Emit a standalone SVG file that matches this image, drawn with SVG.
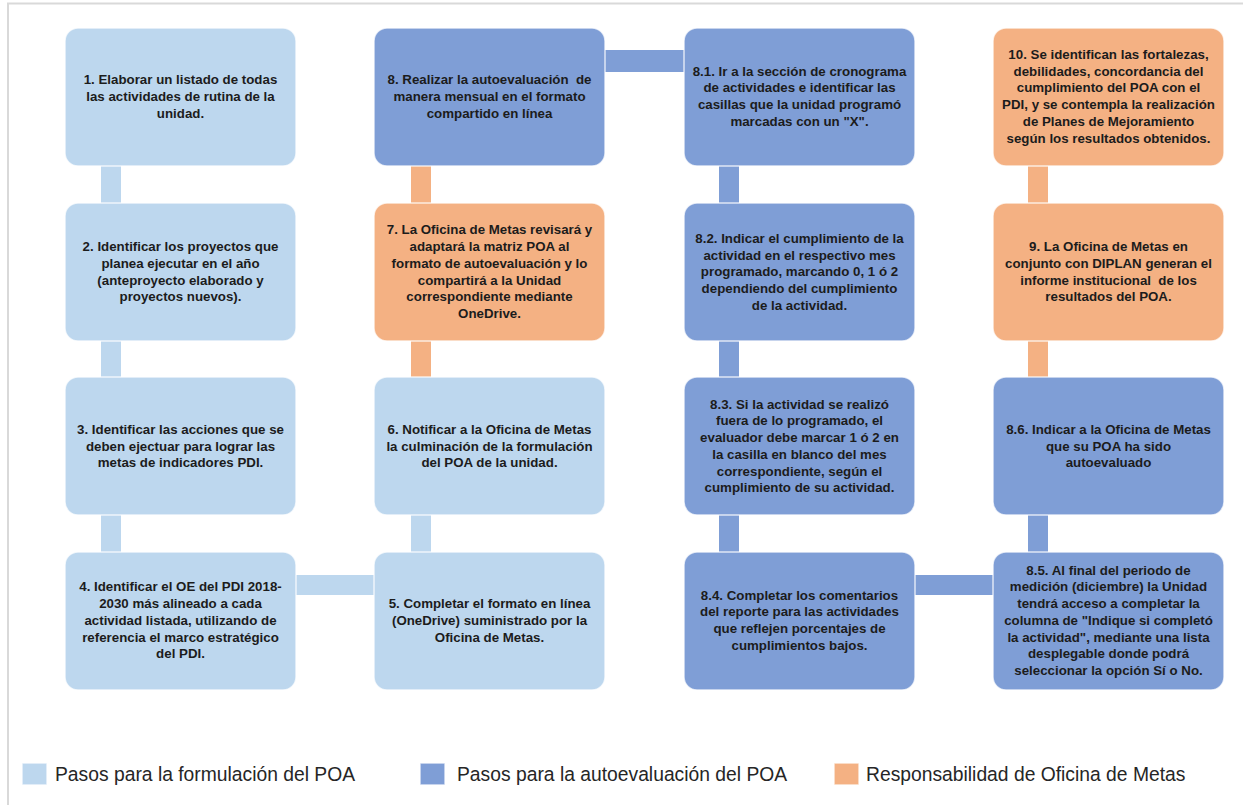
<svg xmlns="http://www.w3.org/2000/svg" width="1243" height="805" viewBox="0 0 1243 805">
<style>
.lb{fill:#BDD7EE}
.mb{fill:#7F9ED6}
.or{fill:#F4B183}
.box{stroke:#ffffff;stroke-opacity:0.75;stroke-width:1.5}
.t{font-family:"Liberation Sans",Arial,sans-serif;font-weight:bold;font-size:13.3px;fill:#1c1c1c;text-anchor:middle;white-space:pre}
.lg{font-family:"Liberation Sans",Arial,sans-serif;font-size:19.3px;fill:#262626}
</style>
<rect x="0" y="0" width="1243" height="805" fill="#ffffff"/>
<rect x="8" y="3.5" width="1260" height="830" fill="none" stroke="#D9D9D9" stroke-width="2"/>
<g id="connectors">
<rect class="lb" x="101" y="165" width="20" height="39"/>
<rect class="lb" x="101" y="340" width="20" height="38"/>
<rect class="lb" x="101" y="514" width="20" height="39"/>
<rect class="lb" x="295" y="575" width="80" height="20"/>
<rect class="or" x="411" y="165" width="20" height="39"/>
<rect class="or" x="411" y="340" width="20" height="38"/>
<rect class="lb" x="411" y="514" width="20" height="39"/>
<rect class="mb" x="604" y="50" width="82" height="22"/>
<rect class="mb" x="719" y="165" width="20" height="39"/>
<rect class="mb" x="719" y="340" width="20" height="38"/>
<rect class="mb" x="719" y="514" width="20" height="39"/>
<rect class="mb" x="914" y="575" width="80" height="20"/>
<rect class="or" x="1028" y="165" width="20" height="39"/>
<rect class="or" x="1028" y="340" width="20" height="38"/>
<rect class="mb" x="1028" y="514" width="20" height="39"/>
</g>
<g id="n1"><rect class="box lb" x="65" y="28" width="231" height="138" rx="13"/>
<text class="t" x="180.5" y="84"><tspan x="180.5">1. Elaborar un listado de todas</tspan><tspan x="180.5" dy="16.75">las actividades de rutina de la</tspan><tspan x="180.5" dy="16.75">unidad.</tspan></text></g>
<g id="n2"><rect class="box lb" x="65" y="203" width="231" height="138" rx="13"/>
<text class="t" x="180.5" y="251.2"><tspan x="180.5">2. Identificar los proyectos que</tspan><tspan x="180.5" dy="16.75">planea ejecutar en el año</tspan><tspan x="180.5" dy="16.75">(anteproyecto elaborado y</tspan><tspan x="180.5" dy="16.75">proyectos nuevos).</tspan></text></g>
<g id="n3"><rect class="box lb" x="65" y="377" width="231" height="138" rx="13"/>
<text class="t" x="180.5" y="433.8"><tspan x="180.5">3. Identificar las acciones que se</tspan><tspan x="180.5" dy="16.75">deben ejectuar para lograr las</tspan><tspan x="180.5" dy="16.75">metas de indicadores PDI.</tspan></text></g>
<g id="n4"><rect class="box lb" x="65" y="552" width="231" height="138" rx="13"/>
<text class="t" x="180.5" y="591.3"><tspan x="180.5">4. Identificar el OE del PDI 2018-</tspan><tspan x="180.5" dy="16.75">2030 más alineado a cada</tspan><tspan x="180.5" dy="16.75">actividad listada, utilizando de</tspan><tspan x="180.5" dy="16.75">referencia el marco estratégico</tspan><tspan x="180.5" dy="16.75">del PDI.</tspan></text></g>
<g id="n5"><rect class="box lb" x="374" y="552" width="231" height="138" rx="13"/>
<text class="t" x="489.5" y="608"><tspan x="489.5">5. Completar el formato en línea</tspan><tspan x="489.5" dy="16.75">(OneDrive) suministrado por la</tspan><tspan x="489.5" dy="16.75">Oficina de Metas.</tspan></text></g>
<g id="n6"><rect class="box lb" x="374" y="377" width="231" height="138" rx="13"/>
<text class="t" x="489.5" y="433.8"><tspan x="489.5">6. Notificar a la Oficina de Metas</tspan><tspan x="489.5" dy="16.75">la culminación de la formulación</tspan><tspan x="489.5" dy="16.75">del POA de la unidad.</tspan></text></g>
<g id="n7"><rect class="box or" x="374" y="203" width="231" height="138" rx="13"/>
<text class="t" x="489.5" y="234.4"><tspan x="489.5">7. La Oficina de Metas revisará y</tspan><tspan x="489.5" dy="16.75">adaptará la matriz POA al</tspan><tspan x="489.5" dy="16.75">formato de autoevaluación y lo</tspan><tspan x="489.5" dy="16.75">compartirá a la Unidad</tspan><tspan x="489.5" dy="16.75">correspondiente mediante</tspan><tspan x="489.5" dy="16.75">OneDrive.</tspan></text></g>
<g id="n8"><rect class="box mb" x="374" y="28" width="231" height="138" rx="13"/>
<text class="t" x="489.5" y="84"><tspan x="489.5">8. Realizar la autoevaluación  de</tspan><tspan x="489.5" dy="16.75">manera mensual en el formato</tspan><tspan x="489.5" dy="16.75">compartido en línea</tspan></text></g>
<g id="n8_1"><rect class="box mb" x="684" y="28" width="231" height="138" rx="13"/>
<text class="t" x="799.5" y="75.7"><tspan x="799.5">8.1. Ir a la sección de cronograma</tspan><tspan x="799.5" dy="16.75">de actividades e identificar las</tspan><tspan x="799.5" dy="16.75">casillas que la unidad programó</tspan><tspan x="799.5" dy="16.75">marcadas con un "X".</tspan></text></g>
<g id="n8_2"><rect class="box mb" x="684" y="203" width="231" height="138" rx="13"/>
<text class="t" x="799.5" y="242.8"><tspan x="799.5">8.2. Indicar el cumplimiento de la</tspan><tspan x="799.5" dy="16.75">actividad en el respectivo mes</tspan><tspan x="799.5" dy="16.75">programado, marcando 0, 1 ó 2</tspan><tspan x="799.5" dy="16.75">dependiendo del cumplimiento</tspan><tspan x="799.5" dy="16.75">de la actividad.</tspan></text></g>
<g id="n8_3"><rect class="box mb" x="684" y="377" width="231" height="138" rx="13"/>
<text class="t" x="799.5" y="408.6"><tspan x="799.5">8.3. Si la actividad se realizó</tspan><tspan x="799.5" dy="16.75">fuera de lo programado, el</tspan><tspan x="799.5" dy="16.75">evaluador debe marcar 1 ó 2 en</tspan><tspan x="799.5" dy="16.75">la casilla en blanco del mes</tspan><tspan x="799.5" dy="16.75">correspondiente, según el</tspan><tspan x="799.5" dy="16.75">cumplimiento de su actividad.</tspan></text></g>
<g id="n8_4"><rect class="box mb" x="684" y="552" width="231" height="138" rx="13"/>
<text class="t" x="799.5" y="599.7"><tspan x="799.5">8.4. Completar los comentarios</tspan><tspan x="799.5" dy="16.75">del reporte para las actividades</tspan><tspan x="799.5" dy="16.75">que reflejen porcentajes de</tspan><tspan x="799.5" dy="16.75">cumplimientos bajos.</tspan></text></g>
<g id="n8_5"><rect class="box mb" x="993" y="552" width="231" height="138" rx="13"/>
<text class="t" x="1108.5" y="574.6"><tspan x="1108.5">8.5. Al final del periodo de</tspan><tspan x="1108.5" dy="16.75">medición (diciembre) la Unidad</tspan><tspan x="1108.5" dy="16.75">tendrá acceso a completar la</tspan><tspan x="1108.5" dy="16.75">columna de "Indique si completó</tspan><tspan x="1108.5" dy="16.75">la actividad", mediante una lista</tspan><tspan x="1108.5" dy="16.75">desplegable donde podrá</tspan><tspan x="1108.5" dy="16.75">seleccionar la opción Sí o No.</tspan></text></g>
<g id="n8_6"><rect class="box mb" x="993" y="377" width="231" height="138" rx="13"/>
<text class="t" x="1108.5" y="433.8"><tspan x="1108.5">8.6. Indicar a la Oficina de Metas</tspan><tspan x="1108.5" dy="16.75">que su POA ha sido</tspan><tspan x="1108.5" dy="16.75">autoevaluado</tspan></text></g>
<g id="n9"><rect class="box or" x="993" y="203" width="231" height="138" rx="13"/>
<text class="t" x="1108.5" y="251.2"><tspan x="1108.5">9. La Oficina de Metas en</tspan><tspan x="1108.5" dy="16.75">conjunto con DIPLAN generan el</tspan><tspan x="1108.5" dy="16.75">informe institucional  de los</tspan><tspan x="1108.5" dy="16.75">resultados del POA.</tspan></text></g>
<g id="n10"><rect class="box or" x="993" y="28" width="231" height="138" rx="13"/>
<text class="t" x="1108.5" y="58.9"><tspan x="1108.5">10. Se identifican las fortalezas,</tspan><tspan x="1108.5" dy="16.75">debilidades, concordancia del</tspan><tspan x="1108.5" dy="16.75">cumplimiento del POA con el</tspan><tspan x="1108.5" dy="16.75">PDI, y se contempla la realización</tspan><tspan x="1108.5" dy="16.75">de Planes de Mejoramiento</tspan><tspan x="1108.5" dy="16.75">según los resultados obtenidos.</tspan></text></g>
<g id="legend">
<rect class="box lb" x="22" y="763" width="25" height="22"/>
<text class="lg" x="55" y="781">Pasos para la formulación del POA</text>
<rect class="box mb" x="420" y="763" width="25" height="22"/>
<text class="lg" x="457" y="781">Pasos para la autoevaluación del POA</text>
<rect class="box or" x="834" y="763" width="25" height="22"/>
<text class="lg" x="866" y="781">Responsabilidad de Oficina de Metas</text>
</g>
</svg>
